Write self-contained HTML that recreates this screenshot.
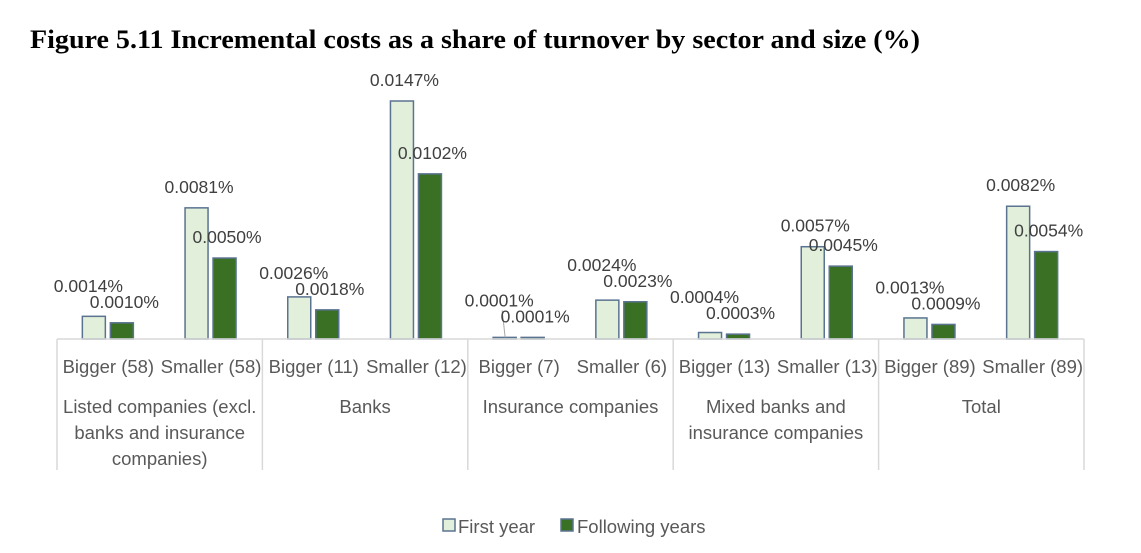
<!DOCTYPE html>
<html><head><meta charset="utf-8"><style>
html,body{margin:0;padding:0;background:#fff;}
svg{display:block;}
</style></head><body>
<svg id="chart" width="1141" height="553" viewBox="0 0 1141 553" xmlns="http://www.w3.org/2000/svg">
<text x="30" y="48" font-family="Liberation Serif, serif" font-weight="bold" font-size="26" textLength="890" lengthAdjust="spacingAndGlyphs" fill="#000">Figure 5.11 Incremental costs as a share of turnover by sector and size (%)</text>
<g id="plot"></g>
<g>
<rect x="443" y="519" width="12" height="12" fill="#e2efda" stroke="#5a7390" stroke-width="1.5"/>
<text x="458" y="533" font-family="Liberation Sans, sans-serif" font-size="18.5" fill="#595959">First year</text>
<rect x="561" y="519" width="12" height="12" fill="#3a7024" stroke="#5a7390" stroke-width="1.5"/>
<text x="577" y="533" font-family="Liberation Sans, sans-serif" font-size="18.5" fill="#595959">Following years</text>
</g>
</svg>
<script>
const subLabels = ["Bigger (58)","Smaller (58)","Bigger (11)","Smaller (12)","Bigger (7)","Smaller (6)","Bigger (13)","Smaller (13)","Bigger (89)","Smaller (89)"];
const sectors = [["Listed companies (excl.","banks and insurance","companies)"],["Banks"],["Insurance companies"],["Mixed banks and","insurance companies"],["Total"]];
const firstYear = [0.0014,0.0081,0.0026,0.0147,0.0001,0.0024,0.0004,0.0057,0.0013,0.0082];
const followingYears = [0.0010,0.0050,0.0018,0.0102,0.0001,0.0023,0.0003,0.0045,0.0009,0.0054];
const firstLabels = ["0.0014%","0.0081%","0.0026%","0.0147%","0.0001%","0.0024%","0.0004%","0.0057%","0.0013%","0.0082%"];
const followLabels = ["0.0010%","0.0050%","0.0018%","0.0102%","0.0001%","0.0023%","0.0003%","0.0045%","0.0009%","0.0054%"];

const NS="http://www.w3.org/2000/svg";
const g=document.getElementById('plot');
const x0=57, x1=1084, base=339;
const yMax=0.0147, yTopPx=101;
const y=v=>base-(v/yMax)*(base-yTopPx);
const subW=(x1-x0)/subLabels.length;
const xc=i=>x0+subW*(i+0.5);
function el(tag,attrs,text){const e=document.createElementNS(NS,tag);for(const k in attrs)e.setAttribute(k,attrs[k]);if(text!==undefined)e.textContent=text;g.appendChild(e);return e;}
const font="Liberation Sans, sans-serif";
subLabels.forEach((s,i)=>{
  const c=xc(i);
  const t1=y(firstYear[i]), t2=y(followingYears[i]);
  const b1=el('rect',{x:c-26,y:t1,width:23,height:base-t1,fill:'#e2efda',stroke:'#5a7390','stroke-width':1.5});
  
  
  const b2=el('rect',{x:c+2,y:t2,width:23,height:base-t2,fill:'#3a7024',stroke:'#5a7390','stroke-width':1.5});
  
  
  const ly2=t2-15;
  let ly1=t1-15;
  const shifted = ly1>ly2-16;
  if(shifted) ly1=ly2-16;
  if(shifted && ly1 < t1-30){
    const ln=el('line',{x1:c-14,y1:t1,x2:c-17,y2:ly1+4,stroke:'#a6a6a6','stroke-width':1});
    
    
  }
  const l1=el('text',{x:shifted?c-20:c-12,y:ly1,'text-anchor':'middle','font-family':font,'font-size':17.5,fill:'#404040'},firstLabels[i]);
  
  
  const l2=el('text',{x:c+16,y:ly2,'text-anchor':'middle','font-family':font,'font-size':17.5,fill:'#404040'},followLabels[i]);
  
  
  const st=el('text',{x:c,y:373,'text-anchor':'middle','font-family':font,'font-size':18.5,fill:'#595959'},s);
  
  
});
const ax=el('line',{x1:x0,y1:base,x2:x1,y2:base,stroke:'#d9d9d9','stroke-width':1.5});


for(let k=0;k<=sectors.length;k++){
  const xx=x0+subW*2*k;
  const d=el('line',{x1:xx,y1:base,x2:xx,y2:470,stroke:'#d9d9d9','stroke-width':1.5});
  
  
}
sectors.forEach((lines,k)=>{
  const cx=x0+subW*(2*k+1);
  lines.forEach((ln,j)=>{
    const t=el('text',{x:cx,y:413+26*j,'text-anchor':'middle','font-family':font,'font-size':18.5,fill:'#595959'},ln);
    
    
  });
});
</script>
</body></html>
